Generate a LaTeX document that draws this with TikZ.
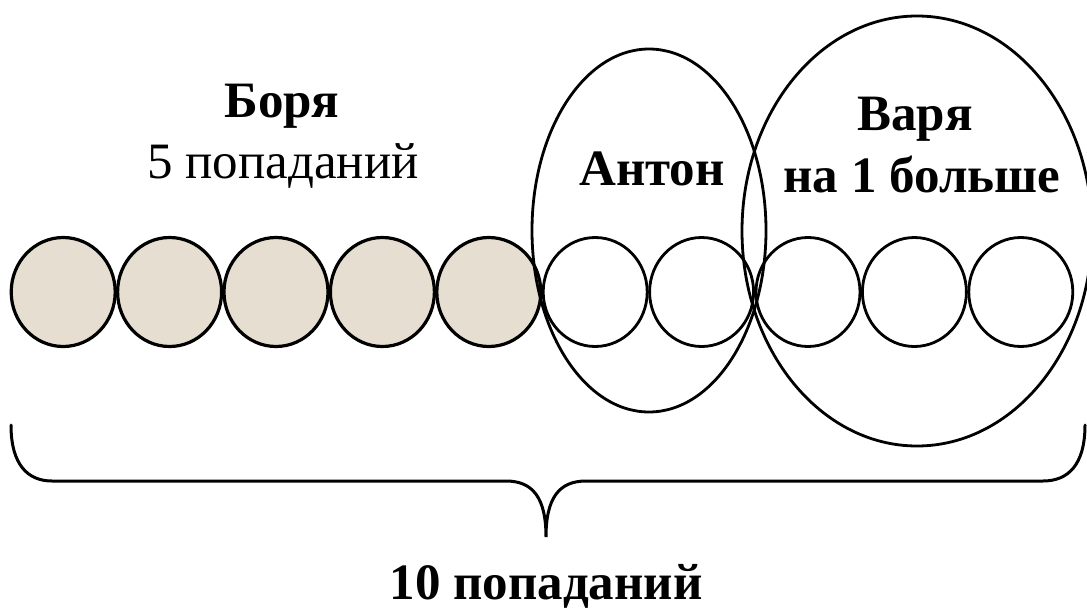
\documentclass[tikz,border=0pt]{standalone}
\usepackage{fontspec}
\setmainfont{Liberation Serif}
\usetikzlibrary{shapes.geometric}
\definecolor{sand}{RGB}{230,222,208}
\begin{document}
\begin{tikzpicture}[x=1pt,y=-1pt,
  ball/.style={ellipse, draw, line width=2.8pt, minimum width=104pt, minimum height=109pt, inner sep=0pt, outer sep=0pt},
  hit/.style={ball, fill=sand, line width=3.2pt},
  miss/.style={ball, fill=white},
  group/.style={ellipse, draw, line width=2.8pt, inner sep=0pt, outer sep=0pt},
  lbl/.style={font=\fontsize{51}{61}\selectfont\bfseries, anchor=base, inner sep=0pt},
  lblr/.style={font=\fontsize{51}{61}\selectfont, anchor=base, inner sep=0pt},
  bracestyle/.style={line width=3pt, line cap=round}]
\useasboundingbox (0,0) rectangle (1087,610);
% balls
\foreach \i in {0,...,4} {
  \node[hit] (c\i) at ({63.2+106.4*\i},292) {};
}
\foreach \i in {5,...,9} {
  \node[miss] (c\i) at ({63.2+106.4*\i},292) {};
}
% groups
\node[group, minimum width=234pt, minimum height=363pt] (anton) at (649,230.5) {};
\node[group, minimum width=350pt, minimum height=430pt] (varya) at (917,231) {};
% labels
\node[lbl] (borya) at (282,117) {Боря};
\node[lblr] (borya5) at (283,178) {5 попаданий};
\node[lbl] (antonl) at (652,185) {Антон};
\node[lbl] (varyal) at (915,130) {Варя};
\node[lbl] (varya1) at (922,192) {на 1 больше};
% brace
\coordinate (bl) at (11,425);
\coordinate (br) at (1085,425);
\coordinate (tip) at (546,537);
\draw[bracestyle] (bl) .. controls (11,465) and (28,481) .. (52,481) -- (506,481)
  .. controls (533,481) and (546,498) .. (tip)
  .. controls (546,498) and (559,481) .. (586,481) -- (1043,481)
  .. controls (1068,481) and (1085,465) .. (br);
\node[lbl] (total) at (546,599) {10 попаданий};
\end{tikzpicture}
\end{document}
